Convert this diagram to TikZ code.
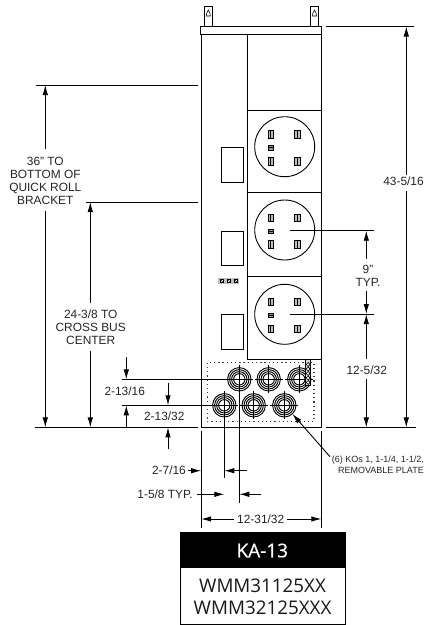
\documentclass[tikz,border=0pt]{standalone}
\usepackage{fontspec}
\setmainfont{Liberation Sans}
\newfontfamily\titlefont{Open Sans}
\newfontfamily\titleheavy[FakeBold=0.5]{Open Sans}
\usetikzlibrary{arrows.meta}
\tikzset{
  x=1pt,y=-1pt,
  ln/.style={line width=0.9pt,black},
  dim/.style={ln,-{Latex[length=10pt,width=5.5pt]}},
  dimlabel/.style={font=\fontsize{11.9}{13}\selectfont,align=center,inner sep=0pt,text=black!85},
  smalllabel/.style={font=\fontsize{9}{11}\selectfont,align=right,inner sep=0pt,text=black!85},
  dotplate/.style={line width=1.3pt,dash pattern=on 1.3pt off 2.9pt,black!75},
  slot/.style={line width=0.6pt,draw=black,fill=black!25},
}
\newcommand{\outlet}[2]{%
  \draw[ln] (#1,#2) circle[radius=30];
  \foreach \dx in {-14,12.6}{\foreach \dy in {-12.4,14.3}{
    \draw[slot] (#1+\dx-2.8,#2+\dy-3.8) rectangle (#1+\dx+2.8,#2+\dy+3.8);
    \draw[line width=0.6pt] (#1+\dx,#2+\dy-3.8) -- (#1+\dx,#2+\dy+3.8);
  }}
  \draw[slot,fill=black!40] (#1-14-2.9,#2+1-2.2) rectangle (#1-14+2.9,#2+1+2.2);
  \draw[line width=0.6pt] (#1-14-2.9,#2+1) -- (#1-14+2.9,#2+1);
}
\newcommand{\knockout}[2]{%
  \foreach \r in {11.7,9.7,7.7,5.7}{\draw[line width=0.95pt] (#1,#2) circle[radius=\r];}
  \draw[line width=0.7pt] (#1-14,#2) -- (#1+14,#2) (#1,#2-14) -- (#1,#2+14);
}
\newcommand{\keyhole}[2]{%
  \draw[line width=0.6pt] (#1-2,#2+3) .. controls (#1-2.4,#2+1) and (#1-1.2,#2) .. (#1-1,#2-1)
    .. controls (#1-1.2,#2-3.5) and (#1+1.2,#2-3.5) .. (#1+1,#2-1)
    .. controls (#1+1.2,#2) and (#1+2.4,#2+1) .. (#1+2,#2+3) -- cycle;
}
\begin{document}
\begin{tikzpicture}
\useasboundingbox (0,0) rectangle (425,625);
\fill[white] (0,0) rectangle (425,625);

% tabs and top bar
\draw[ln] (204,26.5) -- (204,6.7) -- (212.7,6.7) -- (212.7,26.5);
\draw[ln] (310.3,26.5) -- (310.3,6.7) -- (318.7,6.7) -- (318.7,26.5);
\keyhole{208.3}{13}
\keyhole{314.5}{13}
\draw[ln] (200.3,26.5) rectangle (321.7,34);

% body
\draw[ln] (201.5,34) -- (201.5,427.4) -- (321,427.4) -- (321,34);
\draw[ln] (247,34) -- (247,359.3);
\foreach \y in {110,192.7,276.3,359.3}{\draw[ln] (247,\y) -- (321,\y);}

% outlets
\outlet{284.7}{146.7}
\outlet{284.7}{230}
\outlet{284.7}{314.3}

% left rectangles
\draw[ln] (221.3,147.3) rectangle (243,182.3);
\draw[ln] (221.3,231) rectangle (243,265.3);
\draw[ln] (221.3,314.3) rectangle (243,349);

% small connector block
\fill[black!25] (218.3,278) rectangle (239.3,283.6);
\foreach \x in {221.8,228.8,235.8}{
  \draw[line width=0.6pt,fill=white] (\x-1.9,279) rectangle (\x+1.9,282.7);
  \draw[line width=0.4pt] (\x-1.9,279) -- (\x+1.9,282.7);
}

% removable plate
\draw[dotplate] (207.3,362.7) rectangle (314,421.7);
\knockout{239.3}{379.3}
\knockout{268.7}{379.3}
\knockout{299.3}{379.3}
\knockout{224.3}{405.3}
\knockout{253.7}{405.3}
\knockout{284.3}{405.3}

% terminal strip
\draw[line width=0.6pt,fill=black!15] (305.7,359.3) rectangle (310.7,385.7);
\foreach \y in {364.5,369,373.5,378,382.5}{\draw[line width=0.6pt,fill=white] (308.2,\y) circle[radius=1.9];}

% extension lines
\draw[ln] (326,26.5) -- (413.7,26.5);
\draw[ln] (326,427.4) -- (416,427.4);
\draw[ln] (290,230.7) -- (373.7,230.7);
\draw[ln] (290,314) -- (373.7,314);
\draw[ln] (36,85) -- (197.7,85);
\draw[ln] (86,202) -- (198,202);
\draw[ln] (35,427.4) -- (198,427.4);
\draw[ln] (121.7,379.3) -- (239.3,379.3);
\draw[ln] (121.7,405.3) -- (224.3,405.3);
\draw[ln] (239.3,379.3) -- (239.3,502.7);
\draw[ln] (224.3,405.3) -- (224.3,478);
\draw[ln] (201.2,431) -- (201.2,528);
\draw[ln] (321.3,431) -- (321.3,528);

% named dimension ends
\coordinate (a43t) at (406.3,26.5);
\coordinate (a43b) at (406.3,427.4);
\coordinate (a9t) at (366.3,230.7);
\coordinate (a9b) at (366.3,314);
\coordinate (a12t) at (366.3,314);
\coordinate (a12b) at (366.3,427.4);
\coordinate (a36t) at (45.3,85);
\coordinate (a36b) at (45.3,427.4);
\coordinate (a24t) at (90.3,202);
\coordinate (a24b) at (90.3,427.4);

% vertical dimensions with broken lines
\node[dimlabel] (l43) at (403.5,181.7) {43-5/16};
\draw[dim] (406.3,175) -- (a43t);
\draw[dim] (406.3,190.7) -- (a43b);

\node[dimlabel] (l9) at (368,275.5) {9"\\TYP.};
\draw[dim] (366.3,259) -- (a9t);
\draw[dim] (366.3,290.7) -- (a9b);

\node[dimlabel] (l12) at (366.7,370) {12-5/32};
\draw[dim] (366.3,359) -- (a12t);
\draw[dim] (366.3,379) -- (a12b);

\node[dimlabel] (l36) at (45.3,181.3) {36" TO\\BOTTOM OF\\QUICK ROLL\\BRACKET};
\draw[dim] (45.3,149.3) -- (a36t);
\draw[dim] (45.3,210.7) -- (a36b);

\node[dimlabel] (l24) at (90.7,327.2) {24-3/8 TO\\CROSS BUS\\CENTER};
\draw[dim] (90.3,303.3) -- (a24t);
\draw[dim] (90.3,350.7) -- (a24b);

% small vertical dimensions
\node[dimlabel] (l2a) at (124.7,391.7) {2-13/16};
\coordinate (s1a) at (126.3,357.3);
\coordinate (e1a) at (126.3,379.3);
\coordinate (s1b) at (126.3,427.4);
\coordinate (e1b) at (126.3,405.3);
\draw[dim] (s1a) -- (e1a);
\draw[dim] (s1b) -- (e1b);

\node[dimlabel] (l2b) at (164.3,416) {2-13/32};
\coordinate (s2a) at (168,383.3);
\coordinate (e2a) at (168,405.3);
\coordinate (s2b) at (168,449.3);
\coordinate (e2b) at (168,427.4);
\draw[dim] (s2a) -- (e2a);
\draw[dim] (s2b) -- (e2b);

% horizontal dimensions
\node[dimlabel,anchor=east] (l7) at (186,470.7) {2-7/16};
\coordinate (t7a) at (201.2,470.7);
\coordinate (t7b) at (224.3,470.7);
\coordinate (s7b) at (246.7,470.7);
\draw[dim] (l7.east) ++(1.5,0) -- (t7a);
\draw[dim] (s7b) -- (t7b);

\node[dimlabel,anchor=east] (l5) at (193,494.3) {1-5/8 TYP.};
\coordinate (t5a) at (224.3,494.3);
\coordinate (t5b) at (239.3,494.3);
\coordinate (s5b) at (261,494.3);
\draw[dim] (l5.east) ++(3.5,0) -- (t5a);
\draw[dim] (s5b) -- (t5b);

\node[dimlabel] (l31) at (260.7,519) {12-31/32};
\coordinate (t31a) at (201.2,519);
\coordinate (t31b) at (321.3,519);
\draw[dim] (l31.west) ++(-3,0) -- (t31a);
\draw[dim] (l31.east) ++(3,0) -- (t31b);

% leader
\node[smalllabel,anchor=north east] (lko) at (424,455.3) {(6) KOs 1, 1-1/4, 1-1/2,\\REMOVABLE PLATE};
\coordinate (lks) at (330,456.7);
\coordinate (lkt) at (292.5,414);
\draw[dim] (lks) -- (lkt);

% title block
\node[draw=black,line width=0.9pt,minimum width=165pt,minimum height=91.7pt,inner sep=0pt] (tbox) at (262.5,578.2) {};
\fill[black] (tbox.north west) rectangle (345,568.3);
\node[font=\titleheavy\fontsize{19}{21}\selectfont,text=white,inner sep=0pt] (tka) at (262.3,550.5) {KA-13};
\node[font=\titlefont\fontsize{18.8}{22}\selectfont,align=center,inner sep=0pt,text=black!90] (twm) at (262.5,597) {WMM31125XX\\WMM32125XXX};
\end{tikzpicture}
\end{document}
